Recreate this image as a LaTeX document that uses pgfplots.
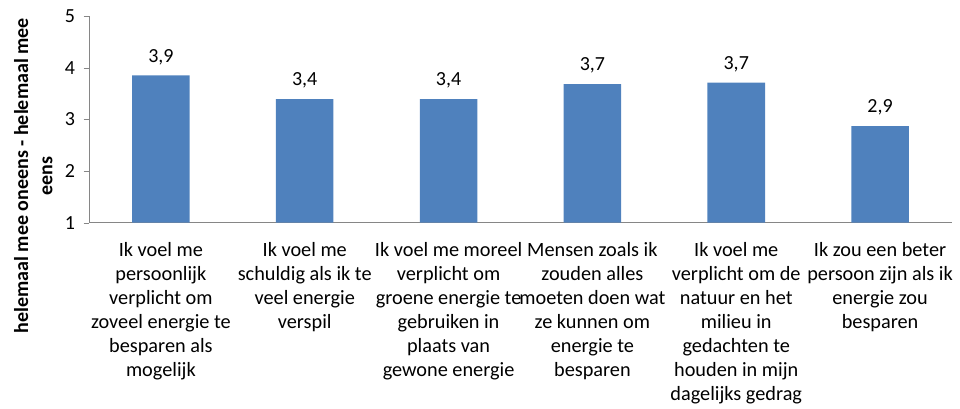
\documentclass[border=0pt]{standalone}
\usepackage{fontspec}
\setmainfont{Carlito}
\usepackage{pgfplots}
\pgfplotsset{compat=1.18}
\definecolor{barblue}{HTML}{4F81BD}
\definecolor{axisgray}{HTML}{868686}
\newcommand{\lblfont}{\fontsize{15}{18.2}\selectfont}
\newcommand{\catfont}{\fontsize{15.2}{18}\selectfont}
\begin{document}
\begin{tikzpicture}
\begin{axis}[
    ybar,
    bar width=0.4,
    width=647pt, height=155pt,
    scale only axis,
    xmin=-0.5, xmax=5.5,
    ymin=1, ymax=5,
    ytick={1,2,3,4,5},
    xtick={0,1,2,3,4,5},
    xticklabels={
      {Ik voel me\\persoonlijk\\verplicht om\\zoveel energie te\\besparen als\\mogelijk},
      {Ik voel me\\schuldig als ik te\\veel energie\\verspil},
      {Ik voel me moreel\\verplicht om\\groene energie te\\gebruiken in\\plaats van\\gewone energie},
      {Mensen zoals ik\\zouden alles\\moeten doen wat\\ze kunnen om\\energie te\\besparen},
      {Ik voel me\\verplicht om de\\natuur en het\\milieu in\\gedachten te\\houden in mijn\\dagelijks gedrag},
      {Ik zou een beter\\persoon zijn als ik\\energie zou\\besparen}},
    x tick style={draw=none},
    extra x ticks={-0.5,0.5,1.5,2.5,3.5,4.5,5.5},
    extra x tick labels={},
    extra x tick style={major tick length=4.5pt, tick style={draw=axisgray}},
    axis lines*=left,
    axis line style={draw=axisgray},
    tick align=outside,
    major tick length=4pt,
    y tick style={draw=axisgray},
    tick label style={font=\lblfont},
    yticklabel style={xshift=-3pt},
    xticklabel style={font=\catfont, align=center, yshift=-7.5pt},
    /pgf/number format/assume math mode=true,
    ylabel={helemaal mee oneens - helemaal mee\\eens},
    ylabel style={font=\lblfont\bfseries, align=center, inner sep=0pt,
      at={(rel axis cs:-0.087,0.227)}, anchor=north},
    nodes near coords,
    nodes near coords style={font=\lblfont, anchor=base, inner sep=0pt, yshift=10pt,
      /pgf/number format/.cd, fixed, fixed zerofill, precision=1, use comma},
    clip mode=individual,
]
\addplot[fill=barblue, draw=none] coordinates {
    (0,3.85) (1,3.39) (2,3.39) (3,3.68) (4,3.71) (5,2.87)
};
\path (rel axis cs:-0.1031,-0.8696) rectangle (rel axis cs:1.0093,1.0773);
\end{axis}
\end{tikzpicture}
\end{document}
